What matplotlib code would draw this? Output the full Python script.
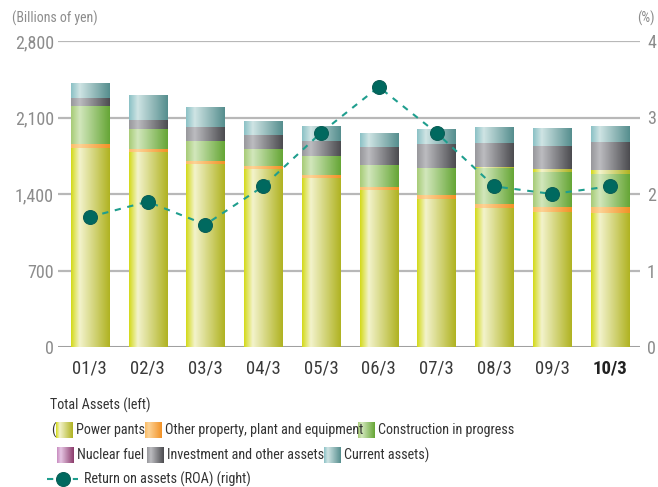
import numpy as np
import matplotlib
matplotlib.use("Agg")
import matplotlib.pyplot as plt
from matplotlib.colors import LinearSegmentedColormap
from matplotlib.lines import Line2D

plt.rcParams['font.family'] = ['Roboto Condensed', 'Fira Sans Condensed', 'Liberation Sans', 'DejaVu Sans']

# fiscal years (March year-end)
years = ["01/3", "02/3", "03/3", "04/3", "05/3", "06/3", "07/3", "08/3", "09/3", "10/3"]

# total assets breakdown, billions of yen
power_plants = [1820, 1783, 1670, 1627, 1544, 1434, 1351, 1268, 1231, 1222]
other_ppe = [36, 27, 30, 27, 27, 31, 37, 37, 46, 55]
construction = [350, 184, 184, 156, 175, 198, 248, 331, 322, 304]
nuclear_fuel = [0, 0, 0, 0, 0, 0, 0, 9, 28, 36]
investment = [73, 83, 129, 129, 138, 166, 220, 221, 211, 258]
current_assets = [138, 230, 183, 129, 138, 128, 138, 147, 165, 147]

# return on assets, %
roa = [1.7, 1.9, 1.6, 2.1, 2.8, 3.4, 2.8, 2.1, 2.0, 2.1]

# (base, highlight, shade) for the horizontal bar gradients
grad = {
    "power": ("#d4da1c", "#f3f3cc", "#b0b322"),
    "other": ("#fbbc66", "#fdd396", "#f29226"),
    "constr": ("#a8cc78", "#d2e7bc", "#66a636"),
    "nuclear": ("#c88cc0", "#e6c6e4", "#8c3c6c"),
    "invest": ("#98989c", "#bcbcc0", "#4c4c50"),
    "current": ("#8cc2c6", "#cfe4e4", "#568e8e"),
}


def make_cmap(name):
    base, light, dark = grad[name]
    return LinearSegmentedColormap.from_list(
        name, [(0, base), (0.22, light), (1, dark)])


row = np.linspace(0, 1, 64).reshape(1, -1)

fig = plt.figure(figsize=(6.58, 4.87), dpi=100)
ax = fig.add_axes([58 / 658, 1 - 347 / 487, 582 / 658, 306 / 487])
ax2 = ax.twinx()

x = np.arange(len(years))
width = 0.66
layers = [
    (power_plants, "power"),
    (other_ppe, "other"),
    (construction, "constr"),
    (nuclear_fuel, "power"),  # drawn in the same yellow as the plants
    (investment, "invest"),
    (current_assets, "current"),
]

ax.set_ylim(0, 2800)
ax.set_xlim(-0.55, 9.52)
for v in [700, 1400, 2100, 2800]:
    ax.axhline(v, color="#b8b8b8", lw=1.6, zorder=0)
ax.axhline(0, color="#a0a0a0", lw=2.2, zorder=0.5)

bottom = np.zeros(len(years))
for vals, key in layers:
    vals = np.array(vals, dtype=float)
    bars = ax.bar(x, vals, width, bottom=bottom, color="none", lw=0, zorder=1)
    cm = make_cmap(key)
    for b in bars:
        if b.get_height() <= 0:
            continue
        x0, y0 = b.get_x(), b.get_y()
        im = ax.imshow(row, cmap=cm, aspect="auto", zorder=1,
                       extent=(x0, x0 + b.get_width(), y0, y0 + b.get_height()))
        im.set_clip_path(b)
    bottom += vals
ax.set_xlim(-0.55, 9.52)
ax.set_ylim(0, 2800)

# ROA line on the right axis
ax2.set_ylim(0, 4)
ax2.plot(x, roa, color="#1f9e8e", lw=1.5, ls=(0, (3, 3.2)), zorder=3)
ax2.plot(x, roa, "o", ms=10, mfc="#00695f", mec="#0a5f57", mew=0.8, zorder=4)

for a in (ax, ax2):
    for s in a.spines.values():
        s.set_visible(False)

ax.set_yticks([0, 700, 1400, 2100, 2800])
ax.set_yticklabels(["0", "700", "1,400", "2,100", "2,800"])
ax2.set_yticks([0, 1, 2, 3, 4])
ax.tick_params(axis="y", length=0, pad=3, labelsize=13, labelcolor="#8c8c8c")
ax2.tick_params(axis="y", length=0, pad=5, labelsize=13, labelcolor="#8c8c8c")
ax.set_xticks(x)
ax.set_xticklabels(years)
ax.tick_params(axis="x", length=0, pad=9, labelsize=13.5, labelcolor="#3a3a3a")
ax.get_xticklabels()[-1].set_fontweight("bold")
ax.get_xticklabels()[-1].set_color("#222222")

fig.text(12 / 658, 1 - 18 / 487, "(Billions of yen)", fontsize=10,
         color="#8c8c8c", va="center", ha="left")
fig.text(655 / 658, 1 - 18 / 487, "(%)", fontsize=10,
         color="#8c8c8c", va="center", ha="right")

# legend block drawn in pixel units underneath the plot
lg = fig.add_axes([0, 0, 1, 97 / 487])
lg.set_xlim(0, 658)
lg.set_ylim(487, 390)
lg.axis("off")
txt = dict(fontsize=10.2, color="#333333", va="center", ha="left")

lg.text(50, 405, "Total Assets (left)", **txt)
lg.text(51, 430, "(", **txt)

swatches = [
    (56, 430, "power", "Power pants"),
    (145, 430, "other", "Other property, plant and equipment"),
    (358, 430, "constr", "Construction in progress"),
    (57, 455, "nuclear", "Nuclear fuel"),
    (147, 455, "invest", "Investment and other assets"),
    (324, 455, "current", "Current assets)"),
]
for sx, sy, key, label in swatches:
    lg.imshow(row, cmap=make_cmap(key), aspect="auto",
              extent=(sx, sx + 17, sy + 8, sy - 8))
    lg.text(sx + 20, sy, label, **txt)

lg.add_line(Line2D([47, 78], [479, 479], color="#1f9e8e", lw=1.5,
                   ls=(0, (3, 3.2))))
lg.plot([63], [479], "o", ms=10, mfc="#00695f", mec="#0a5f57", mew=0.8)
lg.text(84, 479, "Return on assets (ROA) (right)", **txt)
lg.set_xlim(0, 658)
lg.set_ylim(487, 390)

fig.savefig("out.png", dpi=100)
